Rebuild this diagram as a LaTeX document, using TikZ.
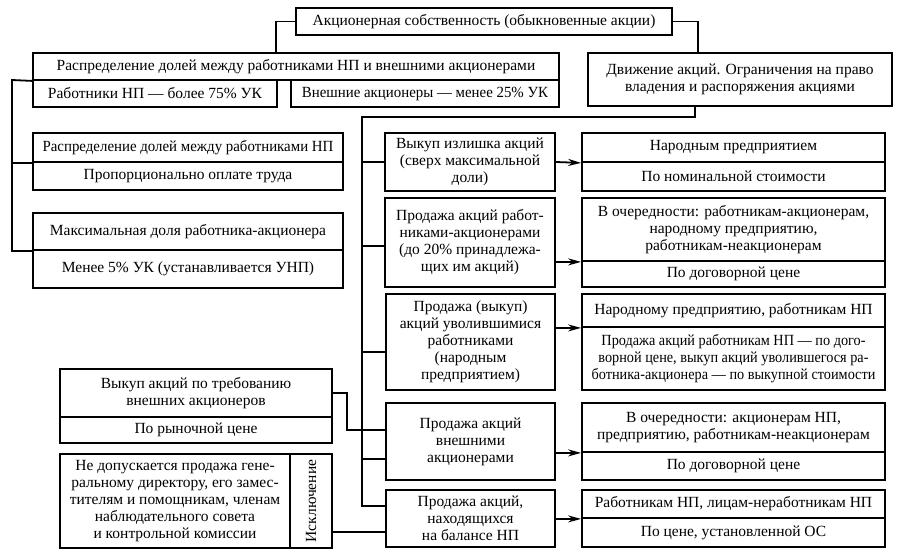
\documentclass[tikz,border=0pt]{standalone}
\usepackage{fontspec}
\setmainfont{Liberation Serif}
\usetikzlibrary{arrows.meta,calc}
\newcommand\fs{\fontsize{15.5}{17}\selectfont}
\newcommand\cond{\addfontfeatures{FakeStretch=0.92}}
\newcommand\bx[7][]{%
  \node[bx,#1,minimum width={(#5-#3)*1pt},minimum height={(#6-#4)*1pt}] (#2) at ({(#3+#5)/2},{(#4+#6)/2}) {#7};}
\begin{document}
\begin{tikzpicture}[x=1pt,y=-1pt,
  bx/.style={draw,line width=1.8pt,inner sep=0pt,align=center,font=\fs},
  cbx/.style={font={\fs\cond}},
  ln/.style={line width=1.8pt},
  arr/.style={line width=1.8pt,-{Stealth[length=13pt,width=7pt]}}]
\useasboundingbox (0,0) rectangle (899,557);
% top
\bx{top}{296}{8}{672}{35}{Акционерная собственность (обыкновенные акции)}
\bx{dist}{33}{53}{559}{80}{Распределение долей между работниками НП и внешними акционерами}
\bx{work}{33}{80}{277}{107}{Работники НП — более 75\% УК}
\bx[font={\fs\addfontfeatures{FakeStretch=0.96}}]{ext}{291}{80}{559}{107}{Внешние акционеры — менее 25\% УК}
\bx{move}{588}{53}{892}{106}{Движение акций. Ограничения на право\\владения и распоряжения акциями}
% left upper
\bx[font={\fs\addfontfeatures{FakeStretch=0.96}}]{sha}{33}{133}{343}{162}{Распределение долей между работниками НП}
\bx{shb}{33}{162}{343}{190}{Пропорционально оплате труда}
\bx{mxa}{33}{213}{343}{250}{Максимальная доля работника-акционера}
\bx{mxb}{33}{250}{343}{288}{Менее 5\% УК (устанавливается УНП)}
% right rows
\bx{ral}{385}{133}{555}{191}{Выкуп излишка акций\\(сверх максимальной\\доли)}
\bx{raa}{582}{133}{885}{162}{Народным предприятием}
\bx{rab}{582}{162}{885}{191}{По номинальной стоимости}
\bx{rbl}{385}{198}{555}{287}{Продажа акций работ-\\никами-акционерами\\(до 20\% принадлежа-\\щих им акций)}
\bx{rba}{582}{198}{885}{261}{В очередности: работникам-акционерам,\\народному предприятию,\\работникам-неакционерам}
\bx{rbb}{582}{261}{885}{287}{По договорной цене}
\bx{rcl}{386}{294}{555}{390}{Продажа (выкуп)\\акций уволившимися\\работниками\\(народным\\предприятием)}
\bx{rca}{582}{294}{885}{327}{Народному предприятию, работникам НП}
\bx[cbx]{rcb}{582}{327}{885}{390}{Продажа акций работникам НП — по дого-\\ворной цене, выкуп акций уволившегося ра-\\ботника-акционера — по выкупной стоимости}
\bx{rdl}{386}{403}{555}{480}{Продажа акций\\внешними\\акционерами}
\bx{rda}{582}{403}{885}{452}{В очередности: акционерам НП,\\предприятию, работникам-неакционерам}
\bx{rdb}{582}{452}{885}{480}{По договорной цене}
\bx{rel}{386}{490}{555}{547}{Продажа акций,\\находящихся\\на балансе НП}
\bx{rea}{582}{490}{885}{518}{Работникам НП, лицам-неработникам НП}
\bx{reb}{582}{518}{885}{547}{По цене, установленной ОС}
% left lower
\bx{bya}{60}{369}{332}{417}{Выкуп акций по требованию\\внешних акционеров}
\bx{byb}{60}{417}{332}{443}{По рыночной цене}
\bx{exa}{60}{454}{290}{548}{Не допускается продажа гене-\\ральному директору, его замес-\\тителям и помощникам, членам\\наблюдательного совета\\и контрольной комиссии}
\bx{exb}{290}{454}{332}{548}{}
\node[rotate=90,font=\fs] (exl) at (exb.center) {Исключение};
% connectors top
\coordinate (c1) at (276,53);
\coordinate (c2) at (698,53);
\draw[ln] (top.west) -| (c1);
\draw[ln] (top.east) -| (c2);
% left bracket
\coordinate (bk) at (12,80);
\draw[ln] (dist.south west) -- (bk) |- (mxa.south west);
\draw[ln] (bk |- sha.south west) -- (sha.south west);
% spine
\coordinate (mv) at (695,106);
\coordinate (sp) at (362,117);
\coordinate (se) at (362,506);
\draw[ln] (mv) |- (sp) -- (se) -- (se -| rel.west);
\coordinate (s1) at (362,162);
\coordinate (s2) at (362,246);
\coordinate (s3) at (362,352);
\coordinate (s4) at (362,459);
\draw[ln] (s1) -- (s1 -| ral.west);
\draw[ln] (s2) -- (s2 -| rbl.west);
\draw[ln] (s3) -- (s3 -| rcl.west);
\draw[ln] (s4) -- (s4 -| rdl.west);
% from lower-left boxes
\coordinate (b1) at (347,393);
\coordinate (b2) at (347,430);
\draw[ln] (b1 -| bya.east) -- (b1) -- (b2) -- (b2 -| rdl.west);
\coordinate (b3) at (332,532);
\draw[ln] (b3) -- (b3 -| rel.west);
% arrows
\draw[arr] (ral.east) -- (raa.south west);
\draw[arr] (rbl.east |- rba.south west) -- (rba.south west);
\draw[arr] (rcl.east |- rca.south west) -- (rca.south west);
\draw[arr] (rdl.east |- rda.south west) -- (rda.south west);
\draw[arr] (rel.east |- rea.south west) -- (rea.south west);
\end{tikzpicture}
\end{document}
